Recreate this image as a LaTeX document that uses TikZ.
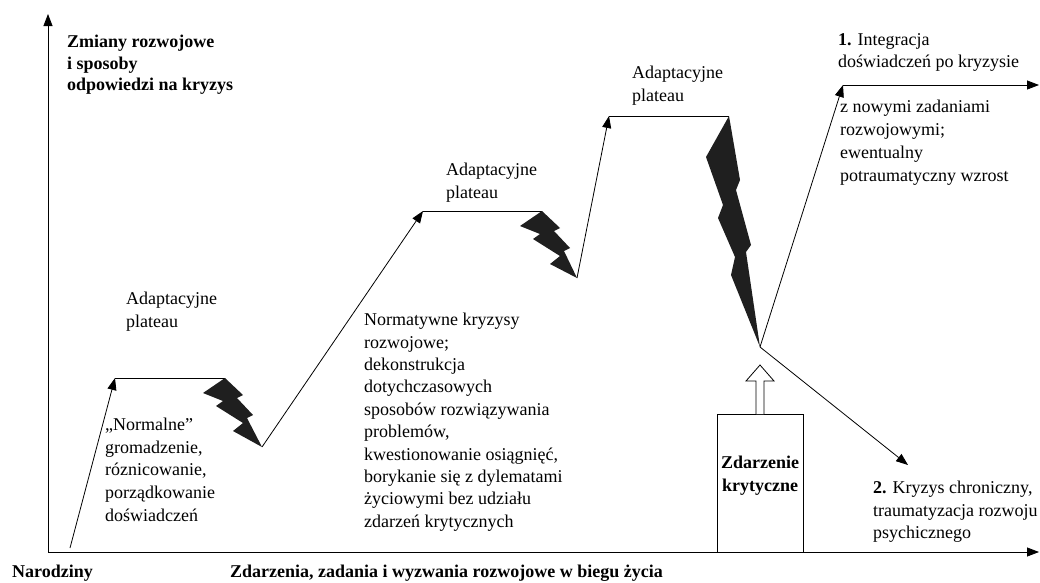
\documentclass[tikz,border=0pt]{standalone}
\usepackage{fontspec}
\setmainfont{Liberation Serif}
\usetikzlibrary{arrows.meta}
\tikzset{
  curve/.style={line width=0.8pt},
  arr/.style={curve,-{Triangle[length=12pt,width=9pt]}},
  txt/.style={anchor=north west, inner sep=0pt, align=left, font=\fontsize{18}{22.6}\selectfont},
  btxt/.style={anchor=north west, inner sep=0pt, align=left, font=\fontsize{18}{21.5}\selectfont\bfseries},
  bolt/.style={fill=black!88, draw=none},
}
\begin{document}
\begin{tikzpicture}[x=1pt,y=-1pt]
\useasboundingbox (0,0) rectangle (1040,582);
% axes
\coordinate (O) at (48,552);
\coordinate (Ytop) at (48,14);
\coordinate (Xend) at (1039,552);
\draw[arr] (O) -- (Ytop);
\draw[arr] (O) -- (Xend);
% curve points
\coordinate (p0) at (70,548);
\coordinate (p1) at (115,378);
\coordinate (p2) at (225,378);
\coordinate (p3) at (262,447);
\coordinate (p4) at (423,211);
\coordinate (p5) at (542,211);
\coordinate (p6) at (577,278);
\coordinate (p7) at (609,116);
\coordinate (p8) at (729,116);
\coordinate (p9) at (760,347);
\coordinate (p10) at (843,85);
\coordinate (p11) at (1039,85);
\coordinate (p12) at (908,465);
\draw[arr] (p0) -- (p1);
\draw[curve] (p1) -- (p2);
\draw[arr] (p3) -- (p4);
\draw[curve] (p4) -- (p5);
\draw[arr] (p6) -- (p7);
\draw[curve] (p7) -- (p8);
\draw[arr] (p9) -- (p10);
\draw[arr] (p10) -- (p11);
\draw[arr] (p9) -- (p12);
% small bolts
\begin{scope}[shift={(p2)}]
\fill[bolt] (0,0) -- (-22,15) -- (-2,23) -- (-9,28) -- (18,45) -- (8,53) -- (37,69)
  -- (22,40) -- (28,37) -- (12,20) -- (18,17) -- cycle;
\end{scope}
\begin{scope}[shift={(p5)}]
\fill[bolt] (0,0) -- (-22,15) -- (-2,23) -- (-9,28) -- (18,45) -- (8,53) -- (35,67)
  -- (22,40) -- (28,37) -- (12,20) -- (18,17) -- cycle;
\end{scope}
% big bolt
\fill[bolt] (p8) -- (706,157) -- (723,205) -- (718,218) -- (735,257) -- (731,275) -- (p9)
  -- (746,252) -- (751,245) -- (736,190) -- (740,180) -- cycle;
% critical event box and hollow arrow
\node[draw, curve, minimum width=86pt, minimum height=138pt, inner sep=0pt] (crit) at (760,483) {};
\draw[curve, fill=white] (756,414) -- (756,381) -- (746,381) -- (760,365) -- (774,381) -- (764,381) -- (764,414);
\node[inner sep=0pt, align=center, font=\fontsize{18}{23}\selectfont\bfseries] (crittxt) at (760,476) {Zdarzenie\\krytyczne};
% texts
\node[btxt] (ylab) at (67,35) {Zmiany rozwojowe\\i sposoby\\odpowiedzi na kryzys};
\node[txt] (ad1) at (126,292) {Adaptacyjne\\plateau};
\node[txt] (ad2) at (446,163) {Adaptacyjne\\plateau};
\node[txt] (ad3) at (632,66) {Adaptacyjne\\plateau};
\node[txt] (norm) at (105,418) {„Normalne”\\gromadzenie,\\róznicowanie,\\porządkowanie\\doświadczeń};
\node[txt, font=\fontsize{18}{22.4}\selectfont] (kryz) at (364,313) {Normatywne kryzysy\\rozwojowe;\\dekonstrukcja\\dotychczasowych\\sposobów rozwiązywania\\problemów,\\kwestionowanie osiągnięć,\\borykanie się z dylematami\\życiowymi bez udziału\\zdarzeń krytycznych};
\node[txt, font=\fontsize{18}{22}\selectfont] (integ) at (838,33) {\textbf{1.} Integracja\\doświadczeń po kryzysie};
\node[txt, font=\fontsize{18}{23}\selectfont] (nowe) at (840,100) {z nowymi zadaniami\\rozwojowymi;\\ewentualny\\potraumatyczny wzrost};
\node[txt] (chron) at (873,481) {\textbf{2.} Kryzys chroniczny,\\traumatyzacja rozwoju\\psychicznego};
\node[btxt] (birth) at (12,565) {Narodziny};
\node[btxt] (xlab) at (230,565) {Zdarzenia, zadania i wyzwania rozwojowe w biegu życia};
\end{tikzpicture}
\end{document}
